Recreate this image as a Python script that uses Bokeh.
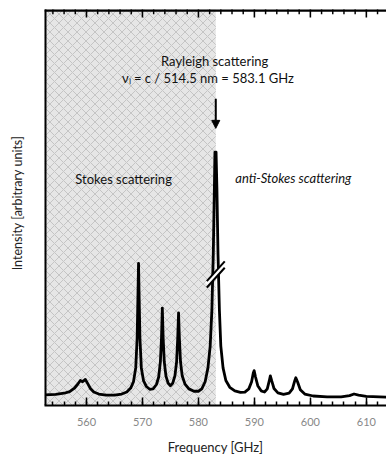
from bokeh.plotting import figure
from bokeh.models import (Range1d, LinearAxis, SingleIntervalTicker, FixedTicker,
                          BoxAnnotation, Label, Arrow, NormalHead, ColumnDataSource)
from bokeh.embed import file_html
from bokeh.resources import INLINE

# ---- data ----
freq_ghz = [552.6, 554.5, 556.0, 557.0, 557.8, 558.4, 558.9, 559.3, 559.8, 560.2,
            560.7, 561.3, 562.2, 563.5, 565.0, 566.3, 567.2, 567.9, 568.4, 568.8,
            569.05, 569.2, 569.3, 569.4, 569.55, 569.8, 570.2, 570.7, 571.3, 571.9,
            572.5, 572.9, 573.2, 573.4, 573.55, 573.7, 573.9, 574.2, 574.6, 575.0,
            575.4, 575.8, 576.1, 576.3, 576.45, 576.6, 576.8, 577.1, 577.6, 578.3,
            579.2, 580.0, 580.6, 581.2, 581.7, 582.1, 582.4, 582.65, 582.85, 582.95,
            583.15, 583.3, 583.5, 583.75, 584.0, 584.4, 584.9, 585.6, 586.5, 587.5,
            588.3, 589.0, 589.5, 589.8, 589.95, 590.2, 590.6, 591.2, 591.8, 592.3,
            592.65, 592.85, 593.1, 593.5, 594.2, 595.2, 596.2, 596.8, 597.2, 597.4,
            597.7, 598.2, 599.0, 600.5, 603.0, 605.5, 607.0, 607.8, 608.6, 610.0,
            613.6]
intensity = [2.7, 2.8, 3.1, 3.5, 4.3, 5.3, 6.3, 6.0, 6.6, 5.6,
             4.3, 3.4, 2.9, 2.6, 2.6, 2.9, 3.4, 4.4, 6.0, 9.5,
             17.0, 28.0, 35.9, 28.0, 17.0, 9.5, 6.2, 4.8, 4.1, 4.2,
             5.3, 7.2, 11.0, 17.0, 24.6, 17.0, 11.0, 7.4, 5.6, 5.0,
             5.6, 7.5, 11.0, 17.0, 23.4, 17.0, 11.0, 7.5, 5.4, 4.2,
             3.6, 3.6, 4.2, 6.0, 9.5, 15.0, 24.0, 38.0, 55.0, 64.0,
             64.0, 55.0, 38.0, 24.0, 15.0, 9.5, 6.3, 4.6, 3.7, 3.3,
             3.4, 4.2, 6.0, 8.2, 8.8, 7.2, 5.0, 3.7, 3.4, 4.2,
             6.2, 7.5, 6.2, 4.3, 3.2, 2.8, 3.1, 4.2, 6.2, 7.0,
             6.0, 4.0, 2.9, 2.4, 2.2, 2.2, 2.5, 2.9, 2.6, 2.3,
             2.1]

major_ticks = [560, 570, 580, 590, 600, 610]
minor_ticks = [554, 556, 558, 562, 564, 566, 568, 572, 574, 576, 578,
               582, 584, 586, 588, 592, 594, 596, 598, 602, 604, 606, 608, 612]

rayleigh_ghz = 583.1
x_start, x_end = 552.5, 613.6
y_start, y_top, y_end = 0.0, 100.0, 102.3

FONT = "Lato"

p = figure(width=386, height=459, output_backend="svg", toolbar_location=None,
           x_range=Range1d(x_start, x_end), y_range=Range1d(y_start, y_end),
           x_axis_location=None, y_axis_location=None,
           min_border_left=44, min_border_right=0, min_border_top=0,
           min_border_bottom=54)
p.outline_line_color = None
p.grid.visible = False
p.background_fill_color = "white"
p.border_fill_color = "white"

# shaded Stokes side
p.add_layout(BoxAnnotation(left=x_start, right=rayleigh_ghz, top=y_top,
                           fill_color="#e6e6e6", fill_alpha=1.0, line_color=None,
                           hatch_pattern="diagonal_cross", hatch_color="#a8a8a8",
                           hatch_scale=9, hatch_weight=0.7, hatch_alpha=0.8,
                           level="underlay"))

# bottom axis with inward ticks
bottom = LinearAxis(axis_label="Frequency [GHz]",
                    ticker=SingleIntervalTicker(interval=10, num_minor_ticks=5))
bottom.axis_line_width = 2
bottom.axis_line_color = "black"
bottom.major_tick_in = 8
bottom.major_tick_out = 0
bottom.minor_tick_in = 4
bottom.minor_tick_out = 0
bottom.major_tick_line_width = 1.5
bottom.minor_tick_line_width = 1.5
bottom.major_label_text_font = FONT
bottom.major_label_text_font_size = "11px"
bottom.major_label_text_color = "#888888"
bottom.major_label_standoff = 12
bottom.axis_label_text_font = FONT
bottom.axis_label_text_font_size = "13px"
bottom.axis_label_text_font_style = "normal"
bottom.axis_label_text_color = "#222222"
bottom.axis_label_standoff = 10
p.add_layout(bottom, "below")

left = LinearAxis(ticker=FixedTicker(ticks=[]), axis_label="Intensity [arbitrary units]")
left.axis_line_color = None
left.major_label_standoff = 0
left.axis_label_text_font = FONT
left.axis_label_text_font_size = "12.5px"
left.axis_label_text_font_style = "normal"
left.axis_label_text_color = "#222222"
left.axis_label_standoff = 20
p.add_layout(left, "left")

# left frame edge (half of it clipped by the frame)
p.segment(x0=[x_start], y0=[y_start], x1=[x_start], y1=[y_top],
          line_color="black", line_width=4)

# top frame edge and its inward ticks, drawn as thin box annotations
p.add_layout(BoxAnnotation(left=x_start, right=x_end, bottom=y_top - 0.55, top=y_top,
                           fill_color="black", fill_alpha=1.0, line_color=None))
for t in major_ticks:
    p.add_layout(BoxAnnotation(left=t - 0.14, right=t + 0.14, bottom=y_top - 2.0,
                               top=y_top, fill_color="black", fill_alpha=1.0,
                               line_color=None))
for t in minor_ticks:
    p.add_layout(BoxAnnotation(left=t - 0.13, right=t + 0.13, bottom=y_top - 1.15,
                               top=y_top, fill_color="black", fill_alpha=1.0,
                               line_color=None))

# spectrum
src = ColumnDataSource(data=dict(f=freq_ghz, i=intensity))
p.line("f", "i", source=src, line_color="black", line_width=2.8, line_join="round")

# break mark on the Rayleigh line
bx, by, dx, dy, gap = rayleigh_ghz, 33.1, 1.6, 2.5, 0.8
p.segment(x0=[bx - dx], y0=[by - dy], x1=[bx + dx], y1=[by + dy],
          line_color="white", line_width=5)
p.segment(x0=[bx - dx, bx - dx], y0=[by - dy - gap, by - dy + gap],
          x1=[bx + dx, bx + dx], y1=[by + dy - gap, by + dy + gap],
          line_color="black", line_width=2)

# arrow to the Rayleigh line
p.add_layout(Arrow(end=NormalHead(size=8, fill_color="black", line_color="black"),
                   x_start=rayleigh_ghz, y_start=77.5, x_end=rayleigh_ghz, y_end=70.0,
                   line_color="black", line_width=2))

def lab(x, y, t, style="normal", align="left"):
    p.add_layout(Label(x=x, y=y, text=t, text_font=FONT, text_font_size="13px",
                       text_font_style=style, text_align=align, text_baseline="middle",
                       text_color="#111111"))

lab(582.9, 86.9, "Rayleigh scattering", align="center")
lab(581.7, 82.7, "\u03bd\u2097 = c / 514.5 nm = 583.1 GHz", align="center")
lab(558.0, 57.3, "Stokes scattering")
lab(586.6, 57.5, "anti-Stokes scattering", style="italic")

open("out.html", "w").write(file_html(p, INLINE))
